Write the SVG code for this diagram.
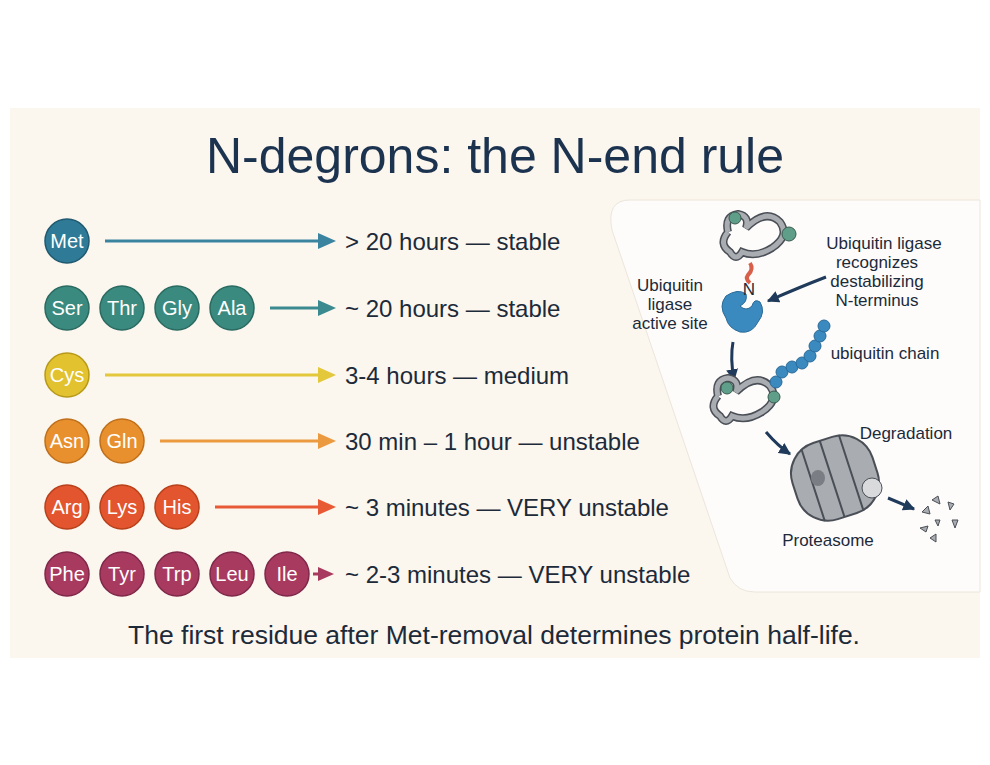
<svg xmlns="http://www.w3.org/2000/svg" width="990" height="765" viewBox="0 0 990 765">
<defs>
<style>
.c{stroke-width:1.5}
.ct{font-family:"Liberation Sans",Arial,sans-serif;font-size:20px;fill:#fff;text-anchor:middle}
.lb{font-family:"Liberation Sans",Arial,sans-serif;font-size:24px;fill:#1c2a3a}
.sm{font-family:"Liberation Sans",Arial,sans-serif;font-size:17px;fill:#1c2a3a;text-anchor:middle}
.pr{fill:#a9acb0;stroke:#4a4f57;stroke-width:2}
</style>
<marker id="ab" viewBox="0 0 10 10" refX="9" refY="5" markerWidth="4" markerHeight="4" orient="auto"><path d="M0,0L10,5L0,10z" fill="#1f3a5a"/></marker>
</defs>
<rect width="990" height="765" fill="#fff"/>
<rect x="10" y="108" width="970" height="550" fill="#fbf6ee"/>
<text x="495" y="173" text-anchor="middle" font-family="Liberation Sans,Arial,sans-serif" font-size="50" fill="#1c3350">N-degrons: the N-end rule</text>
<path d="M630,200 L980,200 L980,592 L755,592 Q738,592 730,578 L612,230 Q606,200 630,200Z" fill="#fdfcfa" stroke="#ece6dc"/>

<g id="row1"><circle cx="67" cy="241" r="22" fill="#2f7a96" stroke="#1f5a70" class="c"/><text x="67" y="248" class="ct">Met</text></g>
<g id="row2">
<circle cx="67" cy="308" r="22" fill="#3a8a80" stroke="#2a6a60" class="c"/><text x="67" y="315" class="ct">Ser</text>
<circle cx="122" cy="308" r="22" fill="#3a8a80" stroke="#2a6a60" class="c"/><text x="122" y="315" class="ct">Thr</text>
<circle cx="177" cy="308" r="22" fill="#3a8a80" stroke="#2a6a60" class="c"/><text x="177" y="315" class="ct">Gly</text>
<circle cx="232" cy="308" r="22" fill="#3a8a80" stroke="#2a6a60" class="c"/><text x="232" y="315" class="ct">Ala</text></g>
<g id="row3"><circle cx="67" cy="375" r="22" fill="#e2c22e" stroke="#b89a1a" class="c"/><text x="67" y="382" class="ct">Cys</text></g>
<g id="row4">
<circle cx="67" cy="441" r="22" fill="#e8902e" stroke="#c0701a" class="c"/><text x="67" y="448" class="ct">Asn</text>
<circle cx="122" cy="441" r="22" fill="#e8902e" stroke="#c0701a" class="c"/><text x="122" y="448" class="ct">Gln</text></g>
<g id="row5">
<circle cx="67" cy="507" r="22" fill="#e2552e" stroke="#b8401a" class="c"/><text x="67" y="514" class="ct">Arg</text>
<circle cx="122" cy="507" r="22" fill="#e2552e" stroke="#b8401a" class="c"/><text x="122" y="514" class="ct">Lys</text>
<circle cx="177" cy="507" r="22" fill="#e2552e" stroke="#b8401a" class="c"/><text x="177" y="514" class="ct">His</text></g>
<g id="row6">
<circle cx="67" cy="574" r="22" fill="#a83a60" stroke="#80284a" class="c"/><text x="67" y="581" class="ct">Phe</text>
<circle cx="122" cy="574" r="22" fill="#a83a60" stroke="#80284a" class="c"/><text x="122" y="581" class="ct">Tyr</text>
<circle cx="177" cy="574" r="22" fill="#a83a60" stroke="#80284a" class="c"/><text x="177" y="581" class="ct">Trp</text>
<circle cx="232" cy="574" r="22" fill="#a83a60" stroke="#80284a" class="c"/><text x="232" y="581" class="ct">Leu</text>
<circle cx="287" cy="574" r="22" fill="#a83a60" stroke="#80284a" class="c"/><text x="287" y="581" class="ct">Ile</text></g>

<g id="connectors" stroke-width="3">
<line x1="105" y1="241" x2="322" y2="241" stroke="#3a84a0"/><path d="M318,233L336,241L318,249z" fill="#3a84a0"/>
<line x1="270" y1="308" x2="322" y2="308" stroke="#3a8a90"/><path d="M318,300L336,308L318,316z" fill="#3a8a90"/>
<line x1="105" y1="375" x2="322" y2="375" stroke="#e2c83a"/><path d="M318,367L336,375L318,383z" fill="#e2c83a"/>
<line x1="160" y1="441" x2="322" y2="441" stroke="#ec9a40"/><path d="M318,433L336,441L318,449z" fill="#ec9a40"/>
<line x1="215" y1="507" x2="322" y2="507" stroke="#e85a36"/><path d="M318,499L336,507L318,515z" fill="#e85a36"/>
<line x1="313" y1="574" x2="322" y2="574" stroke="#a83a60"/><path d="M318,567L334,574L318,581z" fill="#a83a60"/>
<g stroke="#1f3a5a" stroke-width="3" fill="none" marker-end="url(#ab)">
<path d="M826,277 Q800,287 768,301"/>
<path d="M733,342 Q730,358 734,380"/>
<path d="M766,432 Q778,446 790,454"/>
<path d="M888,498 L914,509"/>
</g>
</g>

<g id="labels" class="lb">
<text x="345" y="250">&gt; 20 hours — stable</text>
<text x="345" y="317">~ 20 hours — stable</text>
<text x="345" y="384">3-4 hours — medium</text>
<text x="345" y="450">30 min – 1 hour — unstable</text>
<text x="345" y="516">~ 3 minutes — VERY unstable</text>
<text x="345" y="583">~ 2-3 minutes — VERY unstable</text>
</g>
<text x="494" y="644" text-anchor="middle" font-family="Liberation Sans,Arial,sans-serif" font-size="26.5" fill="#1c2a3a">The first residue after Met-removal determines protein half-life.</text>

<g id="protein1">
<path d="M728,232 q-4,-16 10,-18 q12,2 8,14 q20,-20 34,-6 q10,14 -8,26 q-16,10 -30,4 q-6,10 -12,0 q-12,-8 -2,-20" fill="none" stroke="#4a4f57" stroke-width="8"/>
<path d="M728,232 q-4,-16 10,-18 q12,2 8,14 q20,-20 34,-6 q10,14 -8,26 q-16,10 -30,4 q-6,10 -12,0 q-12,-8 -2,-20" fill="none" stroke="#a9acb0" stroke-width="5"/>
<circle cx="735" cy="218" r="6" fill="#5f9e88" stroke="#3a5a50"/><circle cx="789" cy="234" r="7" fill="#5f9e88" stroke="#3a5a50"/>
<path d="M750,263 q4,6 -2,12 q-3,4 2,8" stroke="#d8604a" stroke-width="4" fill="none"/>
<path d="M726,296 q12,-8 20,-2 q2,8 -6,12 q6,6 12,0 q2,-8 8,-4 q6,10 -2,20 q-6,12 -18,10 q-12,-4 -14,-14 q-8,-12 0,-22z" fill="#3a8ac0" stroke="#2a6a98"/>
<text x="749" y="295" class="sm" font-size="14">N</text>
</g>
<g id="t1" class="sm"><text x="884" y="249">Ubiquitin ligase</text><text x="877" y="268">recognizes</text><text x="877" y="287">destabilizing</text><text x="877" y="306">N-terminus</text></g>
<g id="t2" class="sm"><text x="670" y="291">Ubiquitin</text><text x="670" y="310">ligase</text><text x="670" y="329">active site</text></g>
<g id="protein2">
<path d="M718,396 q-4,-16 10,-18 q12,2 8,14 q20,-20 34,-6 q10,14 -8,26 q-16,10 -30,4 q-6,10 -12,0 q-12,-8 -2,-20" fill="none" stroke="#4a4f57" stroke-width="8"/>
<path d="M718,396 q-4,-16 10,-18 q12,2 8,14 q20,-20 34,-6 q10,14 -8,26 q-16,10 -30,4 q-6,10 -12,0 q-12,-8 -2,-20" fill="none" stroke="#a9acb0" stroke-width="5"/>
<circle cx="727" cy="388" r="6" fill="#5f9e88" stroke="#3a5a50"/><circle cx="774" cy="397" r="6" fill="#5f9e88" stroke="#3a5a50"/>
<g fill="#3a8ac0" stroke="#2a6a98"><circle cx="776" cy="382" r="6"/><circle cx="782" cy="372" r="6"/><circle cx="792" cy="367" r="6"/><circle cx="802" cy="363" r="6"/><circle cx="810" cy="356" r="6"/><circle cx="815" cy="346" r="6"/><circle cx="820" cy="336" r="6"/><circle cx="824" cy="326" r="6"/></g>
</g>
<text x="885" y="359" class="sm">ubiquitin chain</text>
<g id="proteasome">
<rect x="793" y="438" width="84" height="80" rx="32" class="pr" transform="rotate(-18 835 478)"/>
<g transform="rotate(-18 835 478)" stroke="#4a4f57" stroke-width="2"><path d="M812,440 v76 M832,438 v80 M852,438 v80"/></g>
<ellipse cx="818" cy="478" rx="7" ry="8" fill="#7a7e84"/>
<circle cx="872" cy="488" r="10" fill="#d8dadc" stroke="#4a4f57"/>
<g fill="#a9acb0" stroke="#4a4f57"><path d="M922,512l6,-6l2,8z"/><path d="M932,500l6,-4l2,8z"/><path d="M948,502l6,2l-4,6z"/><path d="M920,528l6,4l2,-6z"/><path d="M935,520l5,0l-2,6z"/><path d="M952,520l6,0l-3,8z"/><path d="M930,538l6,-4l0,8z"/></g>
</g>
<text x="906" y="439" class="sm">Degradation</text>
<text x="828" y="546" class="sm">Proteasome</text>
</svg>
